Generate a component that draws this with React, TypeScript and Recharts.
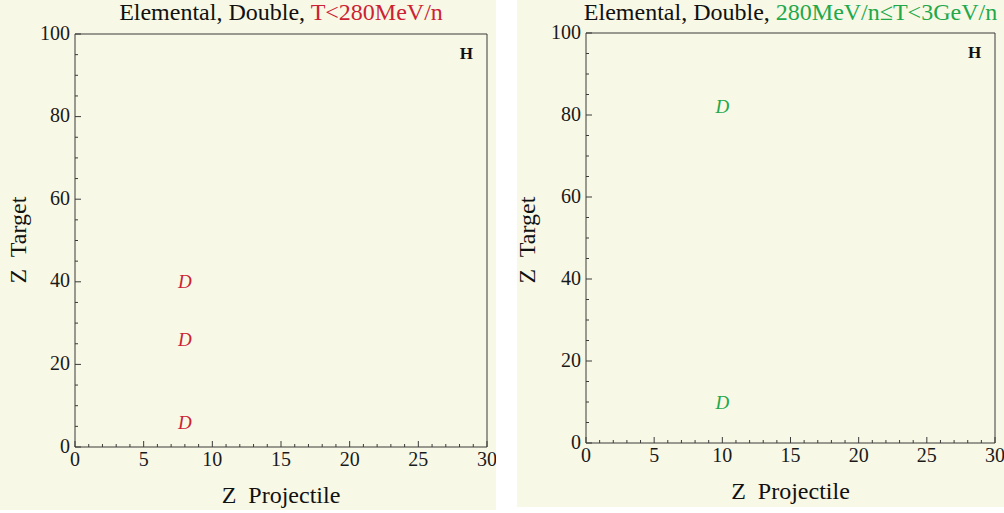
import { ScatterChart, Scatter, XAxis, YAxis } from 'recharts';

const xTicks = [0, 1, 2, 3, 4, 5, 6, 7, 8, 9, 10, 11, 12, 13, 14, 15, 16, 17, 18, 19, 20, 21, 22, 23, 24, 25, 26, 27, 28, 29, 30];
const xLabels = [0, 5, 10, 15, 20, 25, 30];
const yTicks = [0, 5, 10, 15, 20, 25, 30, 35, 40, 45, 50, 55, 60, 65, 70, 75, 80, 85, 90, 95, 100];
const yLabels = [0, 20, 40, 60, 80, 100];

const lowEnergyD = [
  { zp: 8, zt: 40 },
  { zp: 8, zt: 26 },
  { zp: 8, zt: 6 },
];
const midEnergyD = [
  { zp: 10, zt: 82 },
  { zp: 10, zt: 10 },
];
const hydrogenMark = [{ zp: 28.5, zt: 95.3 }];

const FONT = '"Liberation Serif", "DejaVu Serif", serif';
const AXIS = '#3a3a3a';
const BG = '#f8f8e6';

const makeTick = (side: 'bottom' | 'top' | 'left' | 'right', labels: number[]) => (props: any) => {
  const { x, y, payload } = props;
  const v = payload.value;
  const major = labels.includes(v);
  const len = major ? 6 : 3;
  let line;
  if (side === 'bottom') line = <line x1={x} y1={y} x2={x} y2={y - len} stroke={AXIS} />;
  else if (side === 'top') line = <line x1={x} y1={y} x2={x} y2={y + len} stroke={AXIS} />;
  else if (side === 'left') line = <line x1={x} y1={y} x2={x + len} y2={y} stroke={AXIS} />;
  else line = <line x1={x} y1={y} x2={x - len} y2={y} stroke={AXIS} />;
  let label = null;
  if (major && side === 'bottom') {
    label = (
      <text x={x} y={y + 19} textAnchor="middle" fontFamily={FONT} fontSize={20} fill="#1a1a1a">
        {v}
      </text>
    );
  } else if (major && side === 'left') {
    label = (
      <text x={x - 5} y={y + 1} textAnchor="end" dominantBaseline="middle" fontFamily={FONT} fontSize={20} fill="#1a1a1a">
        {v}
      </text>
    );
  }
  return (
    <g>
      {line}
      {label}
    </g>
  );
};

const letterShape = (ch: string, color: string, italic: boolean) => (props: any) => (
  <text
    x={props.cx}
    y={props.cy}
    textAnchor="middle"
    dominantBaseline="central"
    fontFamily={FONT}
    fontStyle={italic ? 'italic' : 'normal'}
    fontWeight={italic ? 'normal' : 'bold'}
    fontSize={italic ? 19 : 17}
    fill={color}
  >
    {ch}
  </text>
);

type PanelProps = {
  left: number;
  width: number;
  height: number;
  plot: { left: number; right: number; top: number; bottom: number };
  labelX: number;
  rangeText: string;
  color: string;
  points: { zp: number; zt: number }[];
};

function Panel({ left, width, height, plot, labelX, rangeText, color, points }: PanelProps) {
  const margin = {
    top: plot.top - 1,
    left: plot.left - 30,
    right: width - plot.right - 1,
    bottom: height - plot.bottom - 30,
  };
  const plotW = plot.right - plot.left;
  const plotH = plot.bottom - plot.top;
  return (
    <div style={{ position: 'absolute', left, top: 0, width, height, background: BG }}>
      <ScatterChart width={width} height={height} margin={margin}>
        <XAxis
          xAxisId="b"
          dataKey="zp"
          type="number"
          domain={[0, 30]}
          ticks={xTicks}
          interval={0}
          height={30}
          tickSize={0}
          tickMargin={0}
          stroke={AXIS}
          tick={makeTick('bottom', xLabels)}
        />
        <XAxis
          xAxisId="t"
          orientation="top"
          dataKey="zp"
          type="number"
          domain={[0, 30]}
          ticks={xTicks}
          interval={0}
          height={1}
          tickSize={0}
          tickMargin={0}
          stroke={AXIS}
          tick={makeTick('top', xLabels)}
        />
        <YAxis
          yAxisId="l"
          dataKey="zt"
          type="number"
          domain={[0, 100]}
          ticks={yTicks}
          interval={0}
          width={30}
          tickSize={0}
          tickMargin={0}
          stroke={AXIS}
          tick={makeTick('left', yLabels)}
        />
        <YAxis
          yAxisId="r"
          orientation="right"
          dataKey="zt"
          type="number"
          domain={[0, 100]}
          ticks={yTicks}
          interval={0}
          width={1}
          tickSize={0}
          tickMargin={0}
          stroke={AXIS}
          tick={makeTick('right', yLabels)}
        />
        <Scatter xAxisId="b" yAxisId="l" data={points} shape={letterShape('D', color, true)} isAnimationActive={false} />
        <Scatter xAxisId="b" yAxisId="l" data={hydrogenMark} shape={letterShape('H', '#111', false)} isAnimationActive={false} />
      </ScatterChart>
      <div
        style={{
          position: 'absolute',
          left: plot.left - 60,
          width: plotW + 120,
          top: -2,
          textAlign: 'center',
          fontFamily: FONT,
          fontSize: 24,
          lineHeight: '28px',
          color: '#111',
          whiteSpace: 'nowrap',
        }}
      >
        Elemental, Double, <span style={{ color }}>{rangeText}</span>
      </div>
      <div
        style={{
          position: 'absolute',
          left: plot.left,
          width: plotW,
          top: plot.bottom + 34,
          textAlign: 'center',
          fontFamily: FONT,
          fontSize: 24,
          lineHeight: '28px',
          color: '#111',
          whiteSpace: 'pre',
        }}
      >
        {'Z  Projectile'}
      </div>
      <div
        style={{
          position: 'absolute',
          left: labelX - plotH / 2,
          top: 240 - 14,
          width: plotH,
          textAlign: 'center',
          fontFamily: FONT,
          fontSize: 24,
          lineHeight: '28px',
          color: '#111',
          whiteSpace: 'pre',
          transform: 'rotate(-90deg)',
        }}
      >
        {'Z  Target'}
      </div>
    </div>
  );
}

export default function App() {
  return (
    <div style={{ position: 'absolute', left: 0, top: 0, width: 1004, height: 513, background: '#fff' }}>
      <Panel
        left={0}
        width={496}
        height={510}
        plot={{ left: 75, right: 487, top: 34, bottom: 447 }}
        labelX={17}
        rangeText="T<280MeV/n"
        color="#cc2233"
        points={lowEnergyD}
      />
      <Panel
        left={517}
        width={487}
        height={507}
        plot={{ left: 69, right: 478, top: 33, bottom: 443 }}
        labelX={10}
        rangeText="280MeV/n≤T<3GeV/n"
        color="#22a84a"
        points={midEnergyD}
      />
    </div>
  );
}
